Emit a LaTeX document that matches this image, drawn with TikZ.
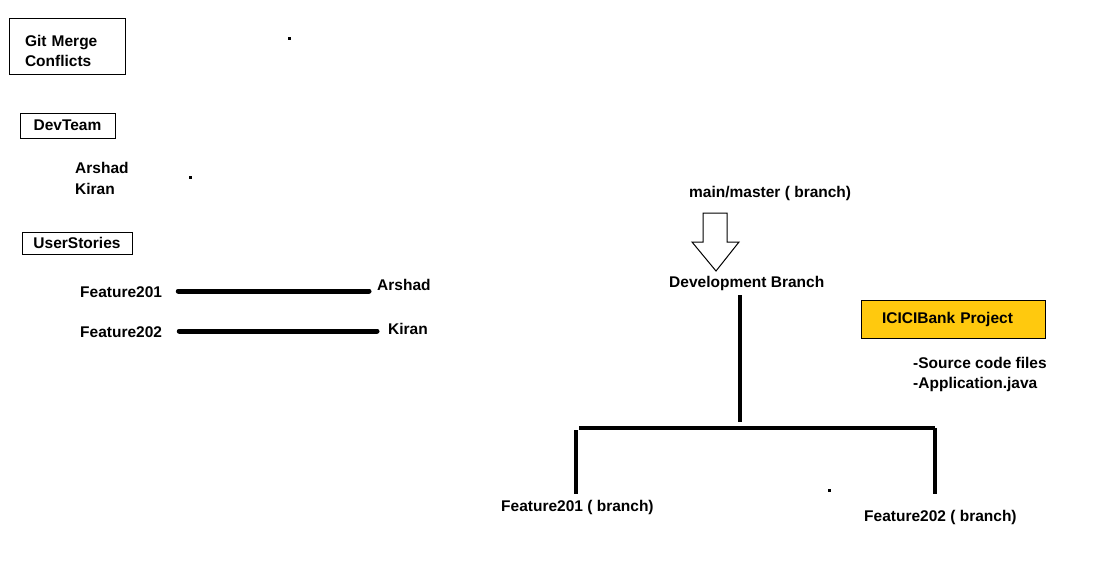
\documentclass[tikz,border=0pt]{standalone}
\usepackage{fontspec}
\setmainfont{Liberation Sans}
\definecolor{gold}{HTML}{FFC90E}
\begin{document}
\begin{tikzpicture}[x=1pt,y=-1pt,
  lbl/.style={font=\fontsize{15.5}{20}\selectfont\bfseries, inner sep=0pt, anchor=base west},
  boxed/.style={draw, line width=1pt, font=\fontsize{15.5}{20}\selectfont\bfseries, inner sep=0pt},
  bar/.style={line width=5pt, line cap=round},
  treeline/.style={line width=3.7pt},
  speck/.style={fill=black, minimum size=3pt, inner sep=0pt}]
\useasboundingbox[fill=white] (0,0) rectangle (1098,563);

% title box
\node[boxed, minimum width=116pt, minimum height=56pt, text width=84pt, inner xsep=16pt, text height=23pt, text depth=23pt, align=left] (title) at (67,46) {Git Merge\\Conflicts};
\node[boxed, minimum width=95pt, minimum height=25pt] (devteam) at (67.5,125.5) {DevTeam};
\node[lbl] (arshadA) at (75,173.5) {Arshad};
\node[lbl] (kiranA) at (75,194) {Kiran};
\node[boxed, minimum width=110pt, minimum height=22pt] (stories) at (77,243) {UserStories};

\node[lbl] (f201) at (80,297) {Feature201};
\node[lbl] (arshadB) at (377,290) {Arshad};
\node[lbl] (f202) at (80,337) {Feature202};
\node[lbl] (kiranB) at (388,334) {Kiran};
\draw[bar] ([xshift=16pt]f201.east |- 0,291) -- ([xshift=-8pt]arshadB.west |- 0,291);
\draw[bar] ([xshift=17pt]f202.east |- 0,331) -- ([xshift=-11pt]kiranB.west |- 0,331);

% specks
\node[speck] (s1) at (289,38) {};
\node[speck] (s2) at (190,177) {};
\node[speck] (s3) at (829,490) {};

% branches
\node[lbl] (main) at (689,197) {main/master ( branch)};
\node[lbl] (dev) at (669,287) {Development Branch};
\draw[line width=1pt, fill=white] (703,213) -- (727,213) -- (727,242) -- (739,242) -- (716,271) -- (692,242) -- (703,242) -- cycle;

\coordinate (devdown) at (740,295);
\coordinate (split) at (740,422);
\coordinate (hr) at (935,428);
\node[lbl] (fb1) at (501,511) {Feature201 ( branch)};
\node[lbl] (fb2) at (864,521) {Feature202 ( branch)};
\draw[treeline] (devdown) -- (split);
\draw[treeline] (579,428) -- (hr);
\draw[treeline] (576,430) -- (576,494);
\draw[treeline] (hr) -- (935,494);

% project box
\node[boxed, fill=gold, minimum width=184pt, minimum height=38pt, text width=142pt, inner xsep=21pt, align=left] (proj) at (953,319) {ICICIBank Project};
\node[lbl] (src) at (913,368) {-Source code files};
\node[lbl] (app) at (913,388) {-Application.java};
\end{tikzpicture}
\end{document}
